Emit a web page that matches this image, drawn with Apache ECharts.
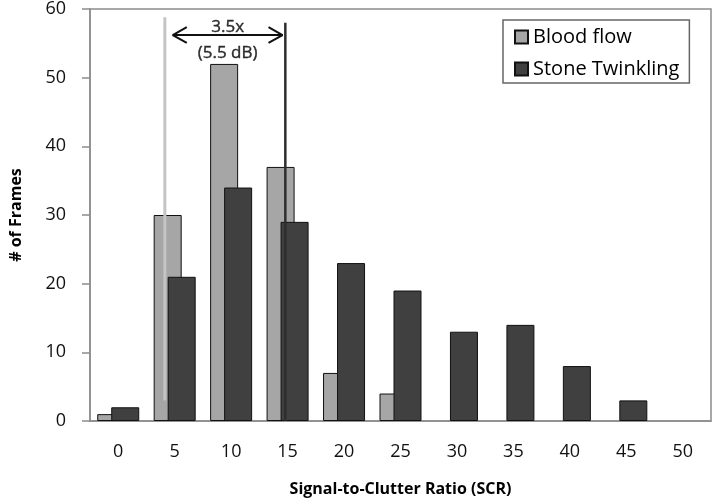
<!DOCTYPE html>
<html>
<head>
<meta charset="utf-8">
<script src="https://cdn.jsdelivr.net/npm/echarts@6/dist/echarts.min.js"></script>
<style>html,body{margin:0;padding:0;background:#fff}#c{width:714px;height:502px}</style>
</head>
<body>
<div id="c"></div>
<script>
var categories = ['0','5','10','15','20','25','30','35','40','45','50'];
var bloodFlow = [1, 30, 52, 37, 7, 4, 0, 0, 0, 0, 0];
var stoneTwinkling = [2, 21, 34, 29, 23, 19, 13, 14, 8, 3, 0];
var yTicks = { min: 0, max: 60, interval: 10 };
// annotation positions in SCR units (secondary hidden value axis)
var bloodLine = [[4.13, 3], [4.13, 58.8]];
var stoneLine = [[14.8, 0], [14.8, 58.0]];
var arrowY = 56.2, arrowL = 4.83, arrowR = 14.55;
var annText1 = [9.69, 57.3], annText2 = [9.69, 53.6];

function hideZero(arr) { return arr.map(function (v) { return v === 0 ? '-' : v; }); }

var FONT = 'Open Sans';
var chart = echarts.init(document.getElementById('c'));
var ah = 1.24, av = 1.15;
chart.setOption({
  animation: false,
  textStyle: { fontFamily: FONT },
  grid: { left: 88, top: 8, right: 3, bottom: 79, show: true, borderColor: '#8c8c8c', borderWidth: 1.5 },
  legend: {
    data: ['Blood flow', 'Stone Twinkling'],
    orient: 'vertical', left: 503, top: 20,
    borderColor: '#666', borderWidth: 1.5,
    padding: [7, 10, 4, 11], itemGap: 12,
    itemWidth: 13, itemHeight: 13, icon: 'rect',
    textStyle: { fontSize: 20, color: '#000', fontFamily: FONT }
  },
  xAxis: [{
    type: 'category', data: categories,
    axisLine: { lineStyle: { color: '#8c8c8c', width: 1.5 } },
    axisTick: { length: 7, lineStyle: { color: '#8c8c8c', width: 1.5 } },
    axisLabel: { fontSize: 18, color: '#111', margin: 22 },
    name: 'Signal-to-Clutter Ratio (SCR)', nameLocation: 'middle', nameGap: 60,
    nameTextStyle: { fontSize: 16, fontWeight: 'bold', color: '#000' }
  }, {
    type: 'value', min: -2.5, max: 52.5, show: false
  }],
  yAxis: {
    type: 'value', min: yTicks.min, max: yTicks.max, interval: yTicks.interval,
    splitLine: { show: false },
    axisLine: { show: true, onZero: false, lineStyle: { color: '#8c8c8c', width: 1.5 } },
    axisTick: { show: true, length: 8, lineStyle: { color: '#8c8c8c', width: 1.5 } },
    axisLabel: { fontSize: 18, color: '#111', margin: 24 },
    name: '# of Frames', nameLocation: 'middle', nameGap: 66, nameRotate: 90,
    nameTextStyle: { fontSize: 16, fontWeight: 'bold', color: '#000' }
  },
  series: [{
    name: 'Blood flow', type: 'bar', data: hideZero(bloodFlow), barWidth: 28, barGap: '-50%',
    itemStyle: { color: '#a6a6a6', borderColor: '#111', borderWidth: 1 }, z: 2
  }, {
    name: 'Stone Twinkling', type: 'bar', data: hideZero(stoneTwinkling), barWidth: 28, barGap: '-50%',
    itemStyle: { color: '#404040', borderColor: '#111', borderWidth: 1 }, z: 3
  }, {
    type: 'line', xAxisIndex: 1, data: bloodLine, symbol: 'none', silent: true,
    lineStyle: { color: '#c4c4c4', width: 3 }, z: 5
  }, {
    type: 'line', xAxisIndex: 1, data: stoneLine, symbol: 'none', silent: true,
    lineStyle: { color: '#2e2e2e', width: 2.5 }, z: 5
  }, {
    type: 'line', xAxisIndex: 1, symbol: 'none', silent: true,
    data: [[arrowL, arrowY], [arrowR, arrowY]],
    lineStyle: { color: '#111', width: 2 }, z: 6
  }, {
    type: 'line', xAxisIndex: 1, symbol: 'none', silent: true,
    data: [[arrowL + ah, arrowY + av], [arrowL, arrowY], [arrowL + ah, arrowY - av]],
    lineStyle: { color: '#111', width: 2 }, z: 6
  }, {
    type: 'line', xAxisIndex: 1, symbol: 'none', silent: true,
    data: [[arrowR - ah, arrowY + av], [arrowR, arrowY], [arrowR - ah, arrowY - av]],
    lineStyle: { color: '#111', width: 2 }, z: 6
  }, {
    type: 'scatter', xAxisIndex: 1, symbolSize: 1, silent: true,
    itemStyle: { color: 'rgba(0,0,0,0)' },
    data: [
      { value: annText1, label: { formatter: '3.5x' } },
      { value: annText2, label: { formatter: '(5.5 dB)' } }
    ],
    label: { show: true, position: 'inside', fontSize: 17, color: '#000', textBorderColor: '#000', textBorderWidth: 0.4, fontFamily: FONT },
    z: 7
  }]
});
</script>
</body>
</html>
